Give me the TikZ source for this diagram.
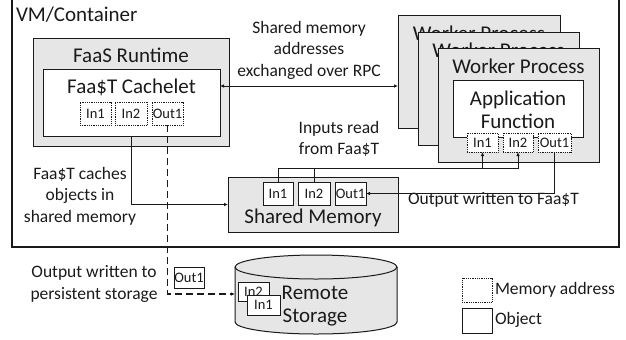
\documentclass[tikz,border=0pt]{standalone}
\usepackage{fontspec}
\setmainfont{Carlito}
\usetikzlibrary{arrows.meta,calc}
\definecolor{boxgray}{HTML}{E6E6E6}
\definecolor{ink}{HTML}{1A1A1A}
\begin{document}
\begin{tikzpicture}[x=1bp,y=-1bp,
  every node/.style={inner sep=0pt,outer sep=0pt,text=ink},
  gbox/.style={draw=ink,fill=boxgray,line width=1bp,anchor=north west},
  wbox/.style={draw=ink,fill=white,line width=1bp,anchor=north west},
  addr/.style={draw=ink,fill=white,densely dotted,line width=0.8bp,anchor=north west,minimum height=23bp,font=\fontsize{14.5bp}{16bp}\selectfont},
  obj/.style={draw=ink,fill=white,line width=1bp,anchor=north west,minimum height=22bp,font=\fontsize{14.5bp}{16bp}\selectfont},
  big/.style={font=\fontsize{21bp}{25bp}\selectfont},
  med/.style={font=\fontsize{17.5bp}{21.5bp}\selectfont,align=center},
  conn/.style={draw=ink,line width=1bp},
  tip/.style={-{Latex[length=4bp,width=3.5bp]}}
]
\useasboundingbox (0,0) rectangle (626,339);
% VM container
\begin{scope}
\clip (0,0) rectangle (626,339);
\node[draw=ink,line width=2bp,anchor=north west,minimum width=607bp,minimum height=254bp] (vm) at (12,-7) {};
\end{scope}
\node[big,anchor=west] (vmlabel) at (16,15) {VM/Container};

% FaaS Runtime
\node[gbox,minimum width=196bp,minimum height=108bp] (faas) at (33,38) {};
\node[big] (faaslabel) at (131,55) {FaaS Runtime};
\node[wbox,minimum width=177bp,minimum height=67bp] (cache) at (43,69) {};
\node[big] (cachelabel) at (131.5,87) {Faa\$T Cachelet};
\node[addr,minimum width=31bp] (cIn1) at (80,102) {In1};
\node[addr,minimum width=32bp] (cIn2) at (115,102) {In2};
\node[addr,minimum width=31bp] (cOut1) at (152,102) {Out1};

% Worker processes
\node[gbox,minimum width=162bp,minimum height=113bp] (wb) at (398,15) {};
\node[big] (wblabel) at (479,33) {Worker Process};
\node[gbox,minimum width=161bp,minimum height=113bp] (wm) at (418,32) {};
\node[big] (wmlabel) at (498.5,50) {Worker Process};
\node[gbox,minimum width=161bp,minimum height=114bp] (wf) at (438,48) {};
\node[big] (wflabel) at (518.5,66) {Worker Process};
\node[wbox,minimum width=130bp,minimum height=57bp] (app) at (453,80) {};
\node[big,align=center] (applabel) at (518,110) {Application\\[-1.5bp]Function};
\node[addr,minimum width=31bp,minimum height=19bp] (wIn1) at (467,133) {In1};
\node[addr,minimum width=30bp,minimum height=19bp] (wIn2) at (503,133) {In2};
\node[addr,minimum width=33bp,minimum height=19bp] (wOut1) at (538,133) {Out1};

% Shared memory
\node[gbox,minimum width=170bp,minimum height=55bp] (sm) at (228,177) {};
\node[big] (smlabel) at (313,218) {Shared Memory};
\node[obj,minimum width=30bp,minimum height=23bp] (sIn1) at (263,182) {In1};
\node[obj,minimum width=32bp,minimum height=23bp] (sIn2) at (298,182) {In2};
\node[obj,minimum width=31bp,minimum height=23bp] (sOut1) at (335,182) {Out1};

% Remote storage cylinder
\filldraw[draw=ink,fill=boxgray,line width=1bp] (235,267) -- (235,322) arc[start angle=180,end angle=0,x radius=81,y radius=12] -- (397,267) arc[start angle=0,end angle=-180,x radius=81,y radius=12] -- cycle;
\draw[draw=ink,line width=1bp] (235,267) arc[start angle=180,end angle=0,x radius=81,y radius=12];
\coordinate (cylw) at (235,294);
\node[obj,minimum width=31bp,minimum height=19bp] (rIn2) at (238,282) {In2};
\node[obj,minimum width=33bp,minimum height=20bp] (rIn1) at (247,295) {In1};
\node[big,align=center] (rlabel) at (315,306) {Remote\\[-1.5bp]Storage};

% loose Out1 object
\node[obj,minimum width=30bp,minimum height=21bp] (lOut1) at (174,267) {Out1};

% Legend
\node[addr,minimum width=30bp,minimum height=24bp] (legA) at (462,278) {};
\node[med,anchor=west] (legAl) at (495,290) {Memory address};
\node[obj,minimum width=30bp,minimum height=25bp] (legO) at (462,308) {};
\node[med,anchor=west] (legOl) at (495,320) {Object};

% Labels
\node[med] (rpclabel) at (309,50) {Shared memory\\addresses\\exchanged over RPC};
\node[med] (inlabel) at (339,139) {Inputs read\\from Faa\$T};
\node[med,anchor=west] (outlabel) at (408,200) {Output written to Faa\$T};
\node[med] (cachesl) at (80,196) {Faa\$T caches\\objects in\\shared memory};
\node[med] (persl) at (94,284) {Output written to\\persistent storage};

% Connectors
\coordinate (rpcy) at (0,86);
\coordinate (bus) at (0,168);
\draw[conn,{Latex[length=4bp,width=3.5bp]}-{Latex[length=4bp,width=3.5bp]}] (cache.east |- rpcy) -- (wb.west |- rpcy);
\draw[conn,tip] (cache.south) |- (sm.west);
\draw[conn,tip,dash pattern=on 7bp off 4bp,line width=1.2bp] (cOut1.south) |- (cylw);
\draw[conn,tip] (sIn1.north) |- (wIn2.south |- bus) -- (wIn2.south);
\draw[conn,tip] (sIn2.north) |- (wIn1.south |- bus) -- (wIn1.south);
\draw[conn,tip] (wOut1.south) |- (sOut1.east);
\end{tikzpicture}
\end{document}
